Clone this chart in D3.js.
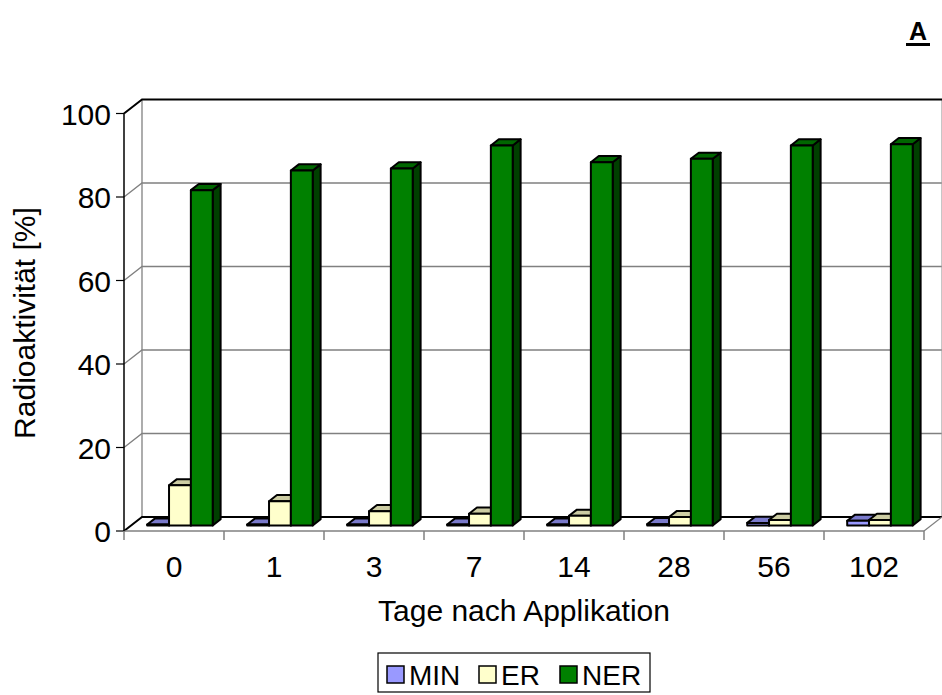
<!DOCTYPE html>
<html><head><meta charset="utf-8">
<script src="https://cdn.jsdelivr.net/npm/d3@7"></script>
<style>body{margin:0;background:#fff}svg{display:block}text{font-family:"Liberation Sans",Arial,sans-serif;fill:#000}</style>
</head><body>
<svg id="c" width="942" height="695"></svg>
<script>
const categories = ["0","1","3","7","14","28","56","102"];
const seriesNames = ["MIN","ER","NER"];
const minValues = [0.2,0.2,0.2,0.2,0.2,0.3,0.6,1.1];
const erValues  = [9.6,5.8,3.4,2.8,2.3,2.0,1.3,1.3];
const nerValues = [80.3,85.0,85.5,91.0,87.0,87.8,91.0,91.3];
const yTicks = [0,20,40,60,80,100];
const colors = {
  MIN:{front:"#9999FF",top:"#7A7ACC",side:"#5C5C99"},
  ER:{front:"#FFFFCC",top:"#CCCCA3",side:"#99997A"},
  NER:{front:"#008000",top:"#006600",side:"#003F00"}
};
const values = {MIN:minValues, ER:erValues, NER:nerValues};

const svg = d3.select("#c");
const DX = 18, DY = -14;
const x = d3.scaleBand().domain(categories).range([124, 924]);
const y = d3.scaleLinear().domain([0,100]).range([531, 113.5]);
const inner = d3.scaleBand().domain(seriesNames).range([16, 81.5]);
const P = (xf, v, z) => [xf + z*DX, y(v) + z*DY];
const line = d3.line();

const g = svg.append("g");
yTicks.forEach(t => {
  if (t > 0 && t < 100) {
    g.append("path").attr("d", line([P(124,t,0),P(124,t,1),P(924,t,1)]))
      .attr("fill","none").attr("stroke","#808080").attr("stroke-width",1.3);
  }
});
g.append("path").attr("d", line([P(124,0,1),P(124,100,1)])).attr("stroke","#808080").attr("stroke-width",1.3).attr("fill","none");
g.append("path").attr("d", line([P(924,0,1),P(924,100,1)])).attr("stroke","#a0a0a0").attr("stroke-width",1.2).attr("fill","none");
g.append("path").attr("d", line([P(124,100,0),P(124,100,1),P(924,100,1)])).attr("stroke","#000").attr("stroke-width",2).attr("fill","none");
g.append("path").attr("d", line([P(124,0,0),P(124,0,1),P(924,0,1)])).attr("stroke","#000").attr("stroke-width",2).attr("fill","none");
g.append("path").attr("d", line([P(924,0,1),P(924,0,0)])).attr("stroke","#808080").attr("stroke-width",1.2).attr("fill","none");
g.append("path").attr("d", line([P(124,0,0),P(924,0,0)])).attr("stroke","#808080").attr("stroke-width",1.5).attr("fill","none");

g.append("path").attr("d", line([P(124,0,0),P(124,100,0)])).attr("stroke","#000").attr("stroke-width",1.5).attr("fill","none");
yTicks.forEach(t => {
  g.append("path").attr("d", line([[116,y(t)],[124,y(t)]])).attr("stroke","#000").attr("stroke-width",1.2);
  g.append("text").attr("x",111).attr("y",y(t)+11).attr("text-anchor","end")
    .attr("font-size",30).text(t);
});
d3.range(categories.length+1).forEach(i => {
  const xx = 124 + i*x.bandwidth();
  g.append("path").attr("d", line([[xx,531],[xx,540]])).attr("stroke","#808080").attr("stroke-width",1.5);
});
categories.forEach(c => {
  g.append("text").attr("x", x(c)+x.bandwidth()/2).attr("y",577).attr("text-anchor","middle")
    .attr("font-size",30).text(c);
});

const zf = 0.4, zb = 0.84;
categories.forEach((c,i) => {
  seriesNames.forEach(s => {
    const v = values[s][i];
    const x0 = x(c) + inner(s), x1 = x0 + inner.bandwidth();
    const col = colors[s];
    const front = [P(x0,v,zf),P(x1,v,zf),P(x1,0,zf),P(x0,0,zf)];
    const top = [P(x0,v,zf),P(x1,v,zf),P(x1,v,zb),P(x0,v,zb)];
    const side = [P(x1,v,zf),P(x1,v,zb),P(x1,0,zb),P(x1,0,zf)];
    [[side,col.side],[top,col.top],[front,col.front]].forEach(([pts,f]) => {
      g.append("path").attr("d", line(pts)+"Z").attr("fill",f)
        .attr("stroke","#000").attr("stroke-width",2).attr("stroke-linejoin","round");
    });
  });
});

svg.append("text").attr("transform","translate(35,323) rotate(-90)").attr("text-anchor","middle")
  .attr("font-size",30).text("Radioaktivität [%]");
svg.append("text").attr("x",524).attr("y",621).attr("text-anchor","middle")
  .attr("font-size",30).text("Tage nach Applikation");
svg.append("text").attr("x",918).attr("y",40).attr("text-anchor","middle")
  .attr("font-size",25).attr("font-weight","bold").text("A");
svg.append("rect").attr("x",906).attr("y",43).attr("width",24).attr("height",3).attr("fill","#000");

const lg = svg.append("g");
lg.append("rect").attr("x",378).attr("y",653).attr("width",272).attr("height",39)
  .attr("fill","#fff").attr("stroke","#000").attr("stroke-width",1.2);
const lx = [387, 479, 560];
seriesNames.forEach((s,i) => {
  lg.append("rect").attr("x",lx[i]).attr("y",666).attr("width",17).attr("height",17)
    .attr("fill",colors[s].front).attr("stroke","#000").attr("stroke-width",1.5);
  lg.append("text").attr("x",lx[i]+22).attr("y",685).attr("font-size",28).text(s);
});
</script>
</body></html>
